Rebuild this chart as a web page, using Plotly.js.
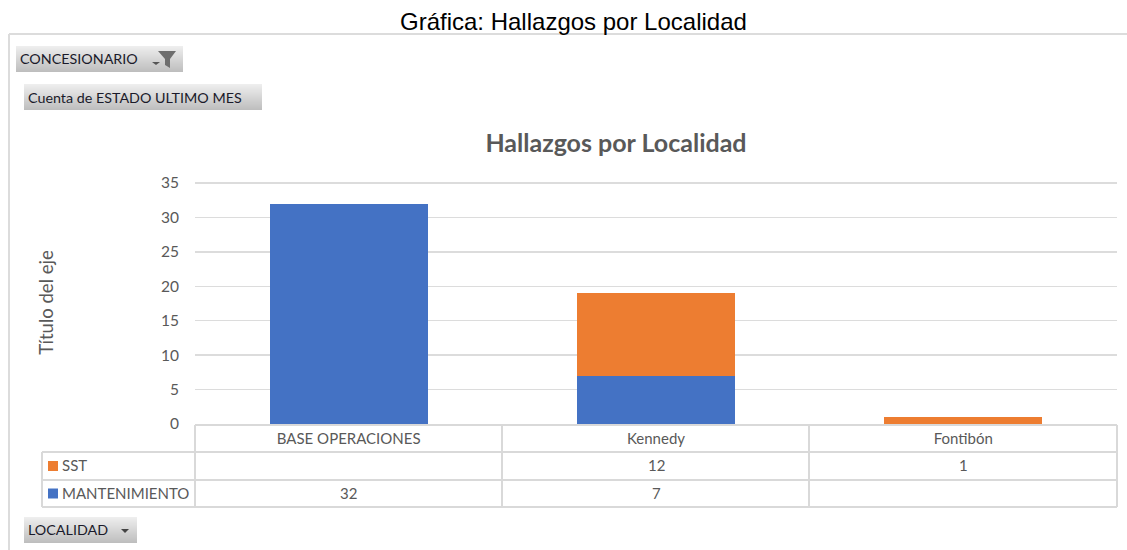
<!DOCTYPE html>
<html><head><meta charset="utf-8">
<script src="https://cdn.plot.ly/plotly-3.0.1.min.js"></script>
<style>html,body{margin:0;padding:0;background:#fff}#c{width:1127px;height:550px}</style></head>
<body><div id="c"></div>
<script>
const categories = ['BASE OPERACIONES', 'Kennedy', 'Fontibón'];
const mantenimiento = [32, 7, null];
const sst = [null, 12, 1];
const seriesNames = ['SST', 'MANTENIMIENTO'];
const seriesColors = ['#ED7D31', '#4472C4'];
const tableRows = [sst, mantenimiento];
const yTicks = [0, 5, 10, 15, 20, 25, 30, 35];
const outerTitle = 'Gráfica: Hallazgos por Localidad';
const chartTitle = 'Hallazgos por Localidad';
const yTitle = 'Título del eje';

const W = 1127, H = 550, L = 195, R = 1117, T = 181, B = 424;
const px = x => (x - L) / (R - L);
const py = y => (B - y) / (B - T);
const shapes = [], annotations = [];
const rect = (x0, y0, x1, y1, fill, line, lw) => shapes.push({
  type: 'rect', xref: 'paper', yref: 'paper', layer: 'above',
  x0: px(x0), x1: px(x1), y0: py(y0), y1: py(y1),
  fillcolor: fill || 'rgba(0,0,0,0)',
  line: {color: line || 'rgba(0,0,0,0)', width: lw || 0}
});
const seg = (x0, y0, x1, y1, c, w) => shapes.push({
  type: 'line', xref: 'paper', yref: 'paper', layer: 'above',
  x0: px(x0), x1: px(x1), y0: py(y0), y1: py(y1), line: {color: c, width: w}
});
const poly = (pts, fill) => shapes.push({
  type: 'path', xref: 'paper', yref: 'paper', layer: 'above',
  path: 'M' + pts.map(p => px(p[0]) + ',' + py(p[1])).join('L') + 'Z',
  fillcolor: fill, line: {width: 0}
});
const text = (x, y, s, size, color, anchor, extra) => annotations.push(Object.assign({
  xref: 'paper', yref: 'paper', x: px(x), y: py(y), text: s, showarrow: false,
  xanchor: anchor || 'left', yanchor: 'middle',
  font: {family: 'Lato, sans-serif', size, color}
}, extra || {}));

// frame of the pasted screenshot
seg(9, 34, 1127, 34, '#dcdcdc', 2);
seg(9, 34, 9, 550, '#dcdcdc', 2);

// pivot-field buttons
const button = (x0, y0, x1, y1) => {
  const n = y1 - y0;
  for (let i = 0; i < n; i++) {
    const v = Math.round(238 - 48 * i / (n - 1));
    rect(x0, y0 + i, x1, y0 + i + 1, `rgb(${v},${v},${v})`);
  }
};
button(16, 46, 183, 72);
text(18, 58.5, 'CONCESIONARIO', 14.3, '#1a1a2a');
poly([[152, 62], [160, 62], [156, 65]], '#555');
poly([[158, 51], [176, 51], [170, 59], [170, 68], [165, 65], [165, 59]], '#6e6e6e');
button(24, 84, 262, 110);
text(26, 97, 'Cuenta de ESTADO ULTIMO MES', 14.3, '#1a1a2a');
button(24, 517, 137, 543);
text(26, 529.5, 'LOCALIDAD', 14.3, '#1a1a2a');
poly([[121, 529], [129, 529], [125, 533]], '#444');

// data table grid
const rowY = [425, 452, 480, 507];
const colX = [195, 502, 809, 1117];
rowY.forEach((y, i) => seg(i === 0 ? 195 : 42, y, 1117, y, '#d9d9d9', 2));
colX.forEach(x => seg(x, 425, x, 507, '#d9d9d9', 2));
seg(42, 452, 42, 507, '#d9d9d9', 2);

seriesNames.forEach((name, r) => {
  const yc = (rowY[r + 1] + rowY[r + 2]) / 2;
  rect(48, yc - 5, 58, yc + 5, seriesColors[r]);
  text(60, yc - 1, name, 15, '#595959');
  tableRows[r].forEach((v, c) => {
    if (v !== null) annotations.push({
      xref: 'x', yref: 'paper', x: categories[c], y: py(yc - 1), text: String(v),
      showarrow: false, xanchor: 'center', yanchor: 'middle',
      font: {family: 'Lato, sans-serif', size: 15, color: '#595959'}
    });
  });
});

// screenshot caption
annotations.push({
  xref: 'paper', yref: 'paper', x: px(573), y: py(21), text: outerTitle, showarrow: false,
  xanchor: 'center', yanchor: 'middle',
  font: {family: 'Liberation Sans, Arial, sans-serif', size: 24, color: '#000'}
});

const data = [
  {type: 'bar', name: seriesNames[1], x: categories, y: mantenimiento, marker: {color: seriesColors[1]}},
  {type: 'bar', name: seriesNames[0], x: categories, y: sst, marker: {color: seriesColors[0]}}
];
const layout = {
  width: W, height: H, autosize: false,
  margin: {l: L, r: W - R, t: T, b: H - B, pad: 0},
  paper_bgcolor: '#fff', plot_bgcolor: '#fff',
  barmode: 'stack', bargap: 0.485, showlegend: false,
  title: {
    text: chartTitle, x: 616 / W, xanchor: 'center', y: 1 - 143 / H, yanchor: 'middle',
    font: {family: 'Lato, sans-serif', size: 25, color: '#595959', weight: 700}
  },
  xaxis: {
    type: 'category', categoryorder: 'array', categoryarray: categories,
    showgrid: false, zeroline: false, showline: false, ticks: 'outside', ticklen: 1, tickcolor: 'rgba(0,0,0,0)',
    tickfont: {family: 'Lato, sans-serif', size: 15, color: '#595959'}
  },
  yaxis: {
    range: [0, 35.29], tickmode: 'array', tickvals: yTicks, ticktext: yTicks.map(String),
    showgrid: true, gridcolor: '#dcdcdc', gridwidth: 1.5, zeroline: false, showline: false,
    ticks: 'outside', ticklen: 12, tickcolor: 'rgba(0,0,0,0)',
    tickfont: {family: 'Lato, sans-serif', size: 15.5, color: '#595959'},
    title: {text: yTitle, standoff: 102, font: {family: 'Lato, sans-serif', size: 18.5, color: '#595959'}}
  },
  shapes, annotations
};
Plotly.newPlot('c', data, layout, {displayModeBar: false, staticPlot: true});
</script></body></html>
